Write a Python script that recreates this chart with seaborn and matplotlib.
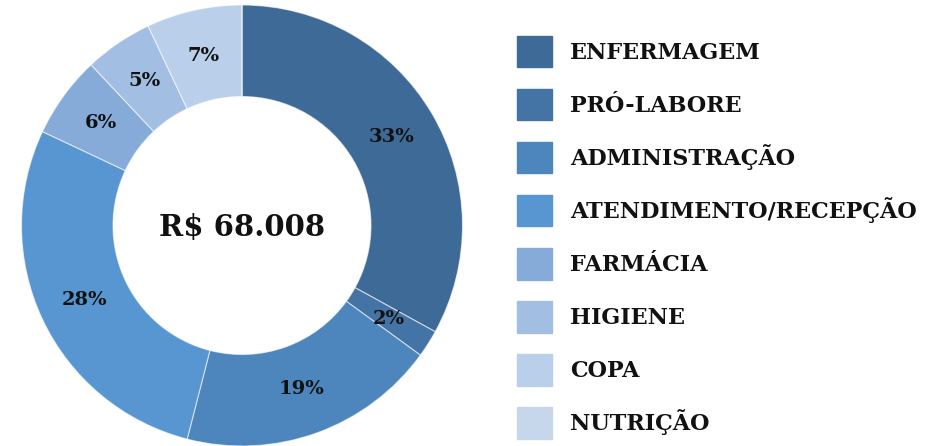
import matplotlib
matplotlib.use("Agg")
import matplotlib.pyplot as plt
import seaborn as sns
from matplotlib.patches import Patch

categories = ["ENFERMAGEM", "PRÓ-LABORE", "ADMINISTRAÇÃO", "ATENDIMENTO/RECEPÇÃO",
              "FARMÁCIA", "HIGIENE", "COPA", "NUTRIÇÃO"]
percentages = [33, 2, 19, 28, 6, 5, 7, 0]
total_label = "R$ 68.008"
hex_colors = ["#3E6A98", "#4473A6", "#4C86BD", "#5796D0",
              "#86ABD9", "#A2BEE2", "#B9CFEA", "#C6D7EC"]

sns.set_theme(style="white")
plt.rcParams['font.family'] = ['DejaVu Serif']
palette = sns.color_palette(hex_colors)

fig = plt.figure(figsize=(9.53, 4.46), dpi=100)
W, H = 953, 446
cx, cy, R = 242, 225.5, 220.5
ax = fig.add_axes([(cx - R) / W, (H - cy - R) / H, 2 * R / W, 2 * R / H])

labels_fmt = lambda p: f"{p:.0f}%" if p > 0.5 else ""
wedges, texts, autotexts = ax.pie(
    percentages, colors=palette, startangle=90, counterclock=False,
    radius=1.0, autopct=labels_fmt, pctdistance=0.79,
    wedgeprops=dict(width=0.415, edgecolor=(1, 1, 1, 0.6), linewidth=0.8),
    textprops=dict(fontsize=14, fontweight="bold", color="#111111"))
ax.set_xlim(-1, 1)
ax.set_ylim(-1, 1)
ax.set_aspect("equal")
ax.axis("off")
ax.text(0, -0.01, total_label, ha="center", va="center",
        fontsize=21, fontweight="bold", color="#111111")

handles = [Patch(facecolor=c, edgecolor=c) for c in palette]
fs = 16
leg = fig.legend(handles, categories, loc="upper left",
                 bbox_to_anchor=(508 / W, 1 - 27 / H), frameon=False,
                 prop=dict(size=fs, weight="bold", family="DejaVu Serif"),
                 handlelength=1.6, handleheight=1.79, handletextpad=0.8,
                 labelspacing=0.98, borderaxespad=0)
for t in leg.get_texts():
    t.set_color("#111111")

fig.savefig("out.png", dpi=100)
